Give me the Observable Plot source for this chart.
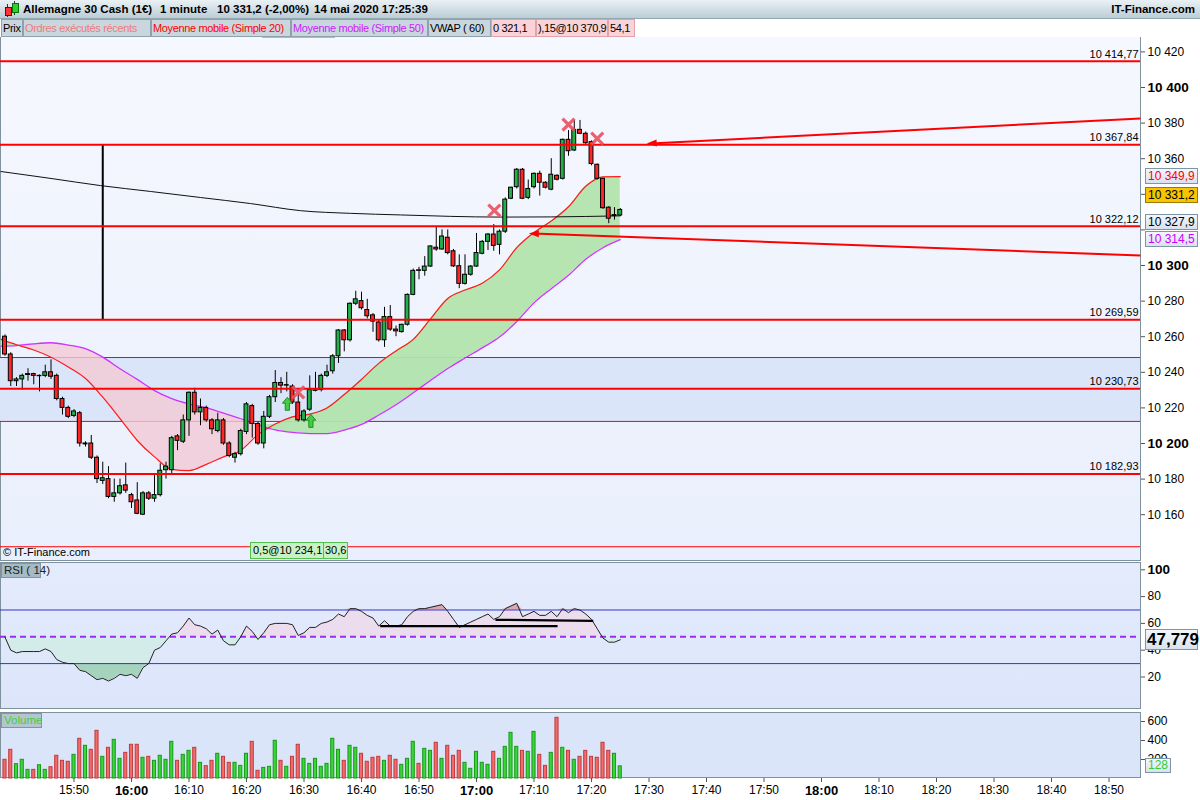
<!DOCTYPE html>
<html><head><meta charset="utf-8">
<script src="https://cdn.jsdelivr.net/npm/d3@7"></script>
<script src="https://cdn.jsdelivr.net/npm/@observablehq/plot@0.6"></script>
<style>
body{margin:0;width:1200px;height:800px;position:relative;overflow:hidden;background:#fff;font-family:"Liberation Sans",Arial,sans-serif;color:#000;}
#hdr{position:absolute;left:0;top:0;width:1200px;height:19px;background:linear-gradient(#eaf1f5,#bccdd6);border-bottom:1px solid #93a7b1;box-sizing:border-box;}
.ttl{position:absolute;top:3px;font-weight:bold;font-size:11.5px;white-space:nowrap;}
.tab{position:absolute;top:19px;height:18px;box-sizing:border-box;border:1px solid #8ea2ad;background:#c9d6dd;font-size:11px;letter-spacing:-0.35px;line-height:16px;padding:0 0 0 1px;white-space:nowrap;overflow:hidden;}
.pink{background:#f9d3d8;border-color:#e3a3aa;}
.panel{position:absolute;left:0;width:1141px;box-sizing:border-box;border:1px solid #7f919c;}
.box{position:absolute;left:1145px;box-sizing:border-box;border:1px solid #7d95a4;background:linear-gradient(#f3f7fc,#d8e2ee);font-size:12px;line-height:13px;padding:0 2px;white-space:nowrap;}
.layer{position:absolute;left:0;}
.layer svg{display:block;overflow:visible;}
.lbl{position:absolute;box-sizing:border-box;font-size:12px;white-space:nowrap;}
</style></head><body>
<div id="hdr"></div>
<div style="position:absolute;left:7px;top:4px;width:1px;height:13px;background:#333"></div>
<div style="position:absolute;left:5px;top:7px;width:5px;height:7px;background:#f33;border:1px solid #700"></div>
<div style="position:absolute;left:14px;top:1px;width:1px;height:14px;background:#333"></div>
<div style="position:absolute;left:12px;top:3px;width:5px;height:8px;background:#3c3;border:1px solid #070"></div>
<div class="ttl" style="left:23px">Allemagne 30 Cash (1€)</div>
<div class="ttl" style="left:160px">1 minute</div>
<div class="ttl" style="left:217px">10 331,2 (-2,00%)</div>
<div class="ttl" style="left:314px">14 mai 2020 17:25:39</div>
<div class="ttl" style="right:5px">IT-Finance.com</div>

<div id="mainPanel" class="panel" style="top:37px;height:524px;background:linear-gradient(#f6f8ff,#e9effc);border-top:none"></div>
<div id="rsiPanel" class="panel" style="top:562px;height:147px;background:linear-gradient(#e4ebfc,#dce5fa)"></div>
<div id="volPanel" class="panel" style="top:712px;height:66px;background:#dbe5fa"></div>

<div class="lbl" style="left:262px;top:28px;width:73px;height:10px;background:#f9d3d8;border:1px solid #e3a3aa"></div>
<div class="tab" style="left:1px;width:22px">Prix</div>
<div class="tab" style="left:23px;width:128px;color:#f07a7a">Ordres exécutés récents</div>
<div class="tab" style="left:151px;width:140px;color:#ff0000">Moyenne mobile (Simple 20)</div>
<div class="tab" style="left:291px;width:137px;color:#cc22ff">Moyenne mobile (Simple 50)</div>
<div class="tab" style="left:428px;width:63px">VWAP ( 60)</div>
<div class="tab pink" style="left:491px;width:45px">0 321,1</div>
<div class="tab pink" style="left:536px;width:72px">),15@10 370,9</div>
<div class="tab pink" style="left:608px;width:27px">54,1</div>

<div id="mainLayer" class="layer" style="top:38px"></div>
<div id="rsiLayer" class="layer" style="top:560px"></div>
<div id="volLayer" class="layer" style="top:710px"></div>

<div class="lbl" style="left:3px;top:546px;font-size:11px">© IT-Finance.com</div>
<div class="lbl" style="left:250px;top:542px;width:74px;height:17px;background:#c8f2c5;border:1px solid #52c24c;line-height:15px;padding-left:2px;font-size:11px">0,5@10 234,1</div>
<div class="lbl" style="left:323px;top:542px;width:25px;height:17px;background:#c8f2c5;border:1px solid #52c24c;line-height:15px;padding-left:1px;font-size:11px">30,6</div>

<div class="box" style="top:168px;height:16px;color:#ff0000;line-height:14px">10 349,9</div>
<div class="box" style="top:187px;height:16px;background:#f8c400;border-color:#9a7b00;line-height:14px">10 331,2</div>
<div class="box" style="top:214px;height:16px;line-height:14px">10 327,9</div>
<div class="box" style="top:231px;height:16px;color:#cc00ff;line-height:14px">10 314,5</div>
<div class="box" style="top:629px;height:21px;font-size:17px;font-weight:bold;line-height:19px;width:53px;padding:0 1px">47,779</div>
<div class="box" style="top:758px;height:15px;color:#33cc33;line-height:13px">128</div>

<div class="lbl" style="left:1px;top:563px;width:40px;height:15px;background:#a6bac4;border:1px solid #7f97a4;line-height:13px;padding-left:2px;color:#222;font-size:11.5px">RSI ( 14)</div>
<div class="lbl" style="left:1px;top:713px;width:41px;height:15px;background:#b3c6cf;border:1px solid #7f97a4;line-height:13px;padding-left:2px;color:#44cc44;font-size:11.5px">Volume</div>

<script>
// ---------- DATA ----------
const startMinute = 938; // first candle 15:38, one candle per minute
const opens  = [10260,10250,10235,10236,10238.5,10239,10237.8,10238,10240,10238,10225,10220,10215.5,10217,10199.5,10200,10192,10179,10180,10170,10172,10176.5,10171,10168,10160,10172,10169,10171,10185,10185,10204,10201,10213,10228.5,10217.5,10220,10213,10207,10213,10200,10192,10194,10206.5,10221,10211,10200,10215,10226,10234,10232.5,10232,10223,10213,10219,10229.6,10230,10238,10240.6,10249,10263.5,10258,10278.5,10280,10275,10272,10268,10258,10271,10264,10262.6,10266.7,10283.5,10297.3,10297,10299.4,10310,10309,10315.6,10308,10299.6,10289.7,10294.8,10299.4,10306.6,10313.3,10317.4,10311.6,10319,10337.5,10344,10353.8,10338,10344,10351.5,10346.5,10342.6,10350.4,10348.7,10370.6,10364.6,10376.2,10374,10369.3,10356.6,10348.7,10332.5,10327.8,10328.1];
const highs  = [10261,10251,10237,10239,10242,10239.5,10238.5,10244,10247,10239,10226,10221,10219,10218,10201,10204.5,10193,10189.5,10187,10180,10180,10189,10172,10178,10173,10173,10182.6,10188.6,10189.5,10204,10205,10216,10229,10231,10225,10221,10214,10217,10214,10201,10195,10208,10223,10222,10212,10218,10227,10241,10237,10240,10233,10228,10219,10238,10240,10239,10244,10250,10264,10264,10279,10285.5,10285,10281,10273,10269,10276.5,10277.5,10266,10267,10284,10298,10299,10305,10311,10321.5,10320,10320,10309,10306,10306,10300,10318,10314,10318,10323,10320,10338,10344,10354.5,10354.5,10348,10352,10353,10347,10360,10351,10371,10375.8,10381.5,10381.5,10375,10370,10357,10349,10333,10332.5,10332];
const lows   = [10249,10232,10232,10230,10235,10233,10229,10237,10236,10224,10216,10214,10214.5,10198,10198,10191,10177.5,10177,10169,10167,10171,10172,10163.5,10160,10159.5,10168,10167,10170,10180,10182,10196,10200,10204,10216,10210,10212,10205,10206,10199,10192,10189,10193,10205,10203,10199,10197,10214,10223,10228,10229,10222,10212,10212,10218,10229,10229,10237,10239,10245,10251.5,10257,10277.5,10275,10270,10262.5,10257,10254,10263,10260,10262,10266,10283,10292,10294,10299,10308,10308.5,10306,10299,10287,10289,10294,10299,10306,10308.4,10308,10306,10318,10337,10343,10337,10337,10343,10339,10343,10342,10347.5,10348,10361.4,10364,10373.5,10368,10356,10348,10331.5,10323.5,10325.5,10327.5];
const closes = [10250,10235,10236,10238,10239,10238,10238,10240,10237.5,10225,10220,10215,10218,10200,10200,10192,10180,10180.5,10170,10172,10176,10173.5,10167,10160.5,10172,10169,10171,10184.7,10187,10203,10201.5,10213,10228.5,10217.5,10220,10213,10208,10213,10200,10193,10194,10207,10222,10211,10200,10215,10226,10234,10232.5,10232.8,10223,10213,10218,10230,10229.9,10238,10240,10249,10263.5,10258,10278.5,10281,10276,10271.5,10268.5,10258,10271,10264,10263,10266.7,10283.5,10297,10297,10299.4,10310.7,10309,10316.3,10307,10299.5,10289.7,10294.8,10299.4,10307,10313.3,10317.4,10311,10319,10337,10343.7,10353.8,10337.5,10343,10351.5,10346.5,10343.7,10351,10348.2,10370.6,10364.2,10376.2,10374,10368.7,10357,10348.7,10332.2,10326.3,10328.3,10331.2];
const volumes = [197,302,151,197,91,91,140,91,119,239,186,176,249,418,344,302,502,228,323,407,207,270,355,355,218,228,186,239,197,386,186,249,291,323,165,130,186,260,228,165,165,133,260,386,81,112,123,397,186,123,228,355,207,154,207,123,154,418,302,186,344,323,260,176,218,228,186,239,197,144,207,386,154,312,291,376,207,344,239,291,165,102,281,165,144,281,207,333,481,333,291,281,491,249,133,270,639,323,291,197,228,291,228,218,376,291,260,128];
const rsi = [49.7,40,38,39,39,39,39,41,39,33,31,30,30,25,24,21,18,19,17,19,22,21,22,19,27,30,40,42,47,52,53,58,64,59,58,56,52,55,47,44,44,50,58,54,48,53,59,60,60,60,59,51,53,57,57,60,61,63,67,65,71,71,69,66,64,58,62,58,58,59,65,69,71,71,72,73,74,69,63,57,59,61,63,65,67,63,65,71,73,75,65,67,69,66,66,69,65,71,68,71,70,67,63,56,49,46,46,47.8];

// moving averages & VWAP (minutes since midnight)
const maTimes = [937.3,940,943,946,949,952,955,958,961,964,967,970,973,976,979,982,985,988,991,994,997,1000,1003,1006,1009,1012,1015,1018,1021,1024,1027,1030,1033,1036,1039,1042,1045];
const ma20 = [10258.5,10255.5,10252.5,10248.5,10243,10236.5,10226,10214,10201.7,10192.5,10185.5,10184.8,10188.3,10192.5,10196.1,10205,10211,10215,10216.5,10220,10227.5,10236,10245,10252,10258.5,10270,10281.5,10286.2,10290,10297.5,10310,10318.5,10325,10333,10344.5,10349.8,10349.9];
const ma50 = [10254.7,10255,10256,10256.6,10255.3,10253.3,10248.5,10242,10236,10229.7,10225.2,10222.2,10220,10217.1,10213.9,10210.5,10207.6,10206.2,10205.6,10205.6,10207.5,10210.7,10216,10221.8,10228.5,10235.4,10242.1,10248,10253.7,10259.8,10268.5,10279,10287,10294.5,10303.5,10310,10314.5];
const vwapTimes = [937.3,946,954.6,963.3,972,980.7,989.4,998.1,1006.8,1015.5,1024.2,1032.9,1045];
const vwap = [10352.8,10348.9,10344.9,10341.6,10338.2,10334.8,10330.8,10329.3,10328.4,10327.6,10327.2,10327.3,10327.9];

// support / resistance lines
const levels = [10414.77, 10367.84, 10322.12, 10269.59, 10230.73, 10182.93];
const thinLevels = [10248.3, 10212.4, 10142];
const shadedBand = [10212.4, 10248.3];
const verticalMark = {t: 955, from: 10269.59, to: 10367.84};
const trendArrows = [
  {t1: 1135.48, v1: 10382.6, t2: 1050.3, v2: 10368.5, rot: -3},
  {t1: 1135.48, v1: 10305.6, t2: 1029.8, v2: 10318.0, rot: 2}
];
const sellMarks = [{t: 1036, v: 10379.2}, {t: 1041, v: 10371.3}, {t: 1023.1, v: 10330.9}, {t: 989, v: 10228.7}];
const buyMarks = [{t: 987.1, v: 10222.3}, {t: 991.2, v: 10212.7}];
const rsiSegments = [{t1: 1003.25, v1: 57.9, t2: 1034.1, v2: 57.9}, {t1: 1023.3, v1: 62.7, t2: 1040.3, v2: 61.9}];

// ticks (10 340 and 10 320 are hidden behind the value boxes in the original)
const priceTicks = [10160, 10180, 10220, 10240, 10260, 10280, 10360, 10380, 10420];
const priceTickMarksOnly = [10320, 10340];
const priceTicksBold = [10200, 10300, 10400];
const rsiTicks = [20, 40, 60, 80];
const rsiTicksBold = [100];
const volTicks = [200, 400, 600];
const timeTicks = [950, 970, 980, 990, 1000, 1010, 1030, 1040, 1050, 1060, 1070, 1090, 1100, 1110, 1120, 1130];
const timeTicksBold = [960, 1020, 1080];

// ---------- CHART ----------
const xDomain = [937.217, 1135.478];
const FONT = "Liberation Sans, Arial, sans-serif";
const idx = d3.range(closes.length);
const maIdx = d3.range(maTimes.length);
const tm = i => startMinute + i;
const isUp = i => closes[i] >= opens[i];
const fmtInt = d => d3.format(",")(d).replace(/,/g, " ");
const fmtDec = d => d3.format(",.2f")(d).replace(/,/g, " ").replace(".", ",");
const fmtTime = m => `${Math.floor(m / 60)}:${String(m % 60).padStart(2, "0")}`;
const baseStyle = {background: "transparent", fontFamily: FONT, fontSize: "12px", color: "#000", overflow: "visible"};

const upArrow = {draw(ctx, size) { const s = Math.sqrt(size / Math.PI);
  ctx.moveTo(0, -s); ctx.lineTo(s * 0.75, -s * 0.1); ctx.lineTo(s * 0.32, -s * 0.1); ctx.lineTo(s * 0.32, s);
  ctx.lineTo(-s * 0.32, s); ctx.lineTo(-s * 0.32, -s * 0.1); ctx.lineTo(-s * 0.75, -s * 0.1); ctx.closePath(); }};
const leftHead = {draw(ctx, size) { const s = Math.sqrt(size / Math.PI);
  ctx.moveTo(0, 0); ctx.lineTo(2 * s, -0.7 * s); ctx.lineTo(2 * s, 0.7 * s); ctx.closePath(); }};

const mainPlot = Plot.plot({
  width: 1200, height: 522, marginLeft: 0, marginRight: 60, marginTop: 0, marginBottom: 0,
  style: baseStyle,
  x: {domain: xDomain, range: [0, 1140], axis: null},
  y: {domain: [10134.27, 10427.53], range: [522, 0]},
  marks: [
    Plot.rect([shadedBand], {x1: xDomain[0], x2: xDomain[1], y1: d => d[0], y2: d => d[1], fill: "#dbe5fa"}),
    Plot.ruleY(thinLevels, {stroke: "#ff0000", strokeWidth: 1}),
    Plot.areaY(maIdx, {x: i => maTimes[i], y1: i => ma50[i], y2: i => Math.max(ma20[i], ma50[i]), fill: "#b2e4ad", fillOpacity: 0.95, curve: "monotone-x"}),
    Plot.areaY(maIdx, {x: i => maTimes[i], y1: i => ma50[i], y2: i => Math.min(ma20[i], ma50[i]), fill: "#f3c9d5", fillOpacity: 0.8, curve: "monotone-x"}),
    Plot.line(maIdx, {x: i => maTimes[i], y: i => ma50[i], stroke: "#cc33ff", strokeWidth: 1.3, curve: "monotone-x"}),
    Plot.line(maIdx, {x: i => maTimes[i], y: i => ma20[i], stroke: "#ff1a1a", strokeWidth: 1.2, curve: "monotone-x"}),
    Plot.line(vwapTimes.map((t, i) => [t, vwap[i]]), {x: d => d[0], y: d => d[1], stroke: "#111", strokeWidth: 1, curve: "monotone-x"}),
    Plot.ruleX([verticalMark], {x: d => d.t, y1: d => d.from, y2: d => d.to, stroke: "#000", strokeWidth: 2}),
    Plot.ruleX(idx, {x: tm, y1: i => lows[i], y2: i => highs[i], stroke: "#000", strokeWidth: 1}),
    Plot.rect(idx, {x1: i => tm(i) - 0.34, x2: i => tm(i) + 0.34, y1: i => opens[i], y2: i => closes[i],
      fill: i => isUp(i) ? "#22b04a" : "#ff2626", stroke: "#000", strokeWidth: 1}),
    Plot.ruleY(levels, {stroke: "#ff0000", strokeWidth: 2}),
    Plot.text(levels, {x: xDomain[1], y: d => d, text: fmtDec, textAnchor: "end", dx: -2, dy: -7, fontSize: 11, fill: "#000"}),
    Plot.link(trendArrows, {x1: d => d.t1, y1: d => d.v1, x2: d => d.t2, y2: d => d.v2, stroke: "#ff0000", strokeWidth: 2}),
    Plot.dot(trendArrows, {x: d => d.t2, y: d => d.v2, symbol: leftHead, r: 5, fill: "#ff0000", stroke: "none", rotate: d => d.rot, dx: -4}),
    Plot.dot(sellMarks, {x: "t", y: "v", symbol: "times", r: 5.5, stroke: "#e9505e", strokeWidth: 3.2, strokeOpacity: 0.9}),
    Plot.dot(buyMarks, {x: "t", y: "v", symbol: upArrow, r: 6.5, fill: "#44cc44", stroke: "#1f8f1f", strokeWidth: 1}),
    Plot.axisY(priceTicks, {anchor: "right", tickSize: 4, tickPadding: 3, tickFormat: fmtInt, fontSize: 12, stroke: "#555", label: null}),
    Plot.axisY(priceTickMarksOnly, {anchor: "right", tickSize: 4, tickFormat: () => "", stroke: "#555", label: null}),
    Plot.axisY(priceTicksBold, {anchor: "right", tickSize: 4, tickPadding: 3, tickFormat: fmtInt, fontSize: 13.5, fontWeight: "bold", stroke: "#555", label: null})
  ]
});
document.getElementById("mainLayer").appendChild(mainPlot);

const rsiPlot = Plot.plot({
  width: 1200, height: 150, marginLeft: 0, marginRight: 60, marginTop: 0, marginBottom: 0,
  style: baseStyle,
  x: {domain: xDomain, range: [0, 1140], axis: null},
  y: {domain: [-5, 106.94], range: [150, 0]},
  marks: [
    Plot.areaY(idx, {x: tm, y1: 50, y2: i => Math.min(Math.max(rsi[i], 50), 70), fill: "#ebdcee"}),
    Plot.areaY(idx, {x: tm, y1: 70, y2: i => Math.max(rsi[i], 70), fill: "#d6a9b2"}),
    Plot.areaY(idx, {x: tm, y1: 50, y2: i => Math.max(Math.min(rsi[i], 50), 30), fill: "#d3ecea"}),
    Plot.areaY(idx, {x: tm, y1: 30, y2: i => Math.min(rsi[i], 30), fill: "#a5d3bb"}),
    Plot.ruleY([70, 30], {stroke: "#3434c8", strokeWidth: 1}),
    Plot.ruleY([50], {stroke: "#9a2cf0", strokeWidth: 2, strokeDasharray: "6,4"}),
    Plot.line(idx, {x: tm, y: i => rsi[i], stroke: "#222", strokeWidth: 1}),
    Plot.link(rsiSegments, {x1: "t1", y1: "v1", x2: "t2", y2: "v2", stroke: "#000", strokeWidth: 2.2}),
    Plot.axisY(rsiTicks, {anchor: "right", tickSize: 4, tickPadding: 3, fontSize: 12, stroke: "#555", label: null}),
    Plot.axisY(rsiTicksBold, {anchor: "right", tickSize: 4, tickPadding: 3, fontSize: 13.5, fontWeight: "bold", stroke: "#555", label: null})
  ]
});
document.getElementById("rsiLayer").appendChild(rsiPlot);

const volPlot = Plot.plot({
  width: 1200, height: 90, marginLeft: 0, marginRight: 60, marginTop: 0, marginBottom: 22,
  style: baseStyle,
  x: {domain: xDomain, range: [0, 1140]},
  y: {domain: [0, 715.8], range: [68, 0]},
  marks: [
    Plot.rect(idx, {x1: i => tm(i) - 0.27, x2: i => tm(i) + 0.27, y1: 0, y2: i => volumes[i],
      fill: i => isUp(i) ? "#3ad63a" : "#f26b6b", stroke: i => isUp(i) ? "#179a17" : "#c23a3a", strokeWidth: 1}),
    Plot.axisY(volTicks, {anchor: "right", tickSize: 4, tickPadding: 3, fontSize: 12, stroke: "#555", label: null}),
    Plot.axisX(timeTicks, {anchor: "bottom", tickSize: 4, tickPadding: 3, tickFormat: fmtTime, fontSize: 12, stroke: "#555", label: null}),
    Plot.axisX(timeTicksBold, {anchor: "bottom", tickSize: 4, tickPadding: 3, tickFormat: fmtTime, fontSize: 13, fontWeight: "bold", stroke: "#555", label: null})
  ]
});
document.getElementById("volLayer").appendChild(volPlot);
</script>
</body></html>
